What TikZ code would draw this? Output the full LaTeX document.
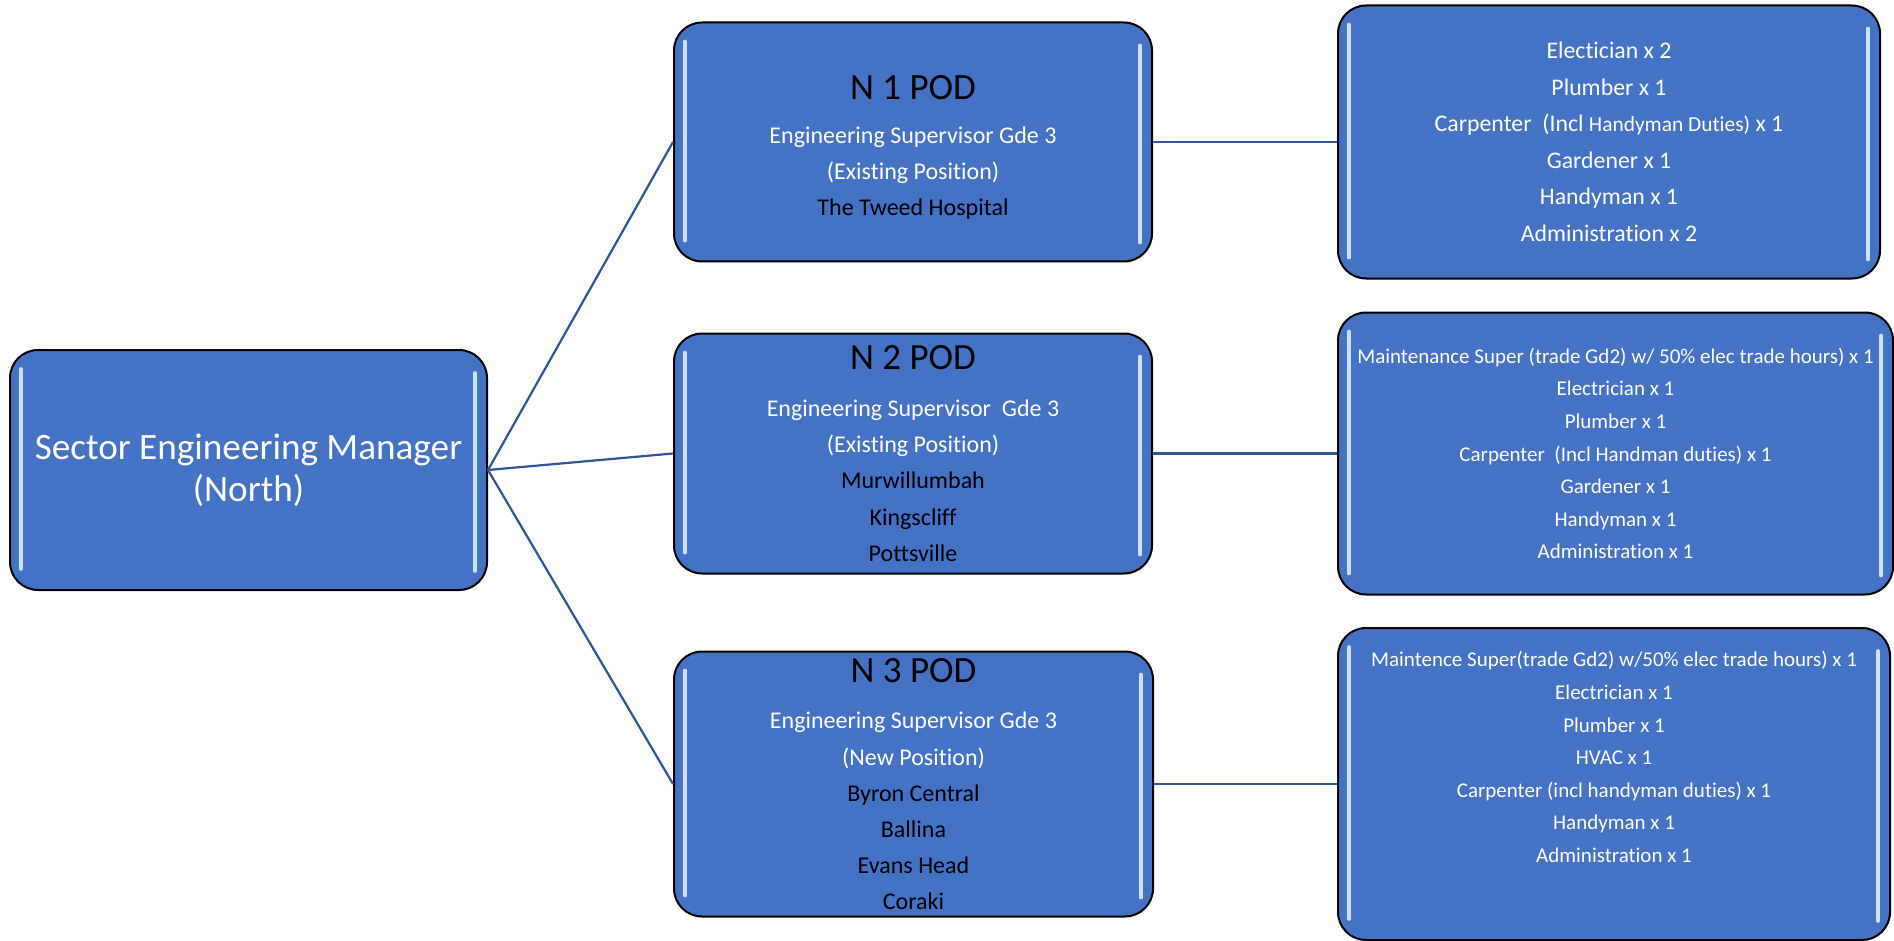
\documentclass[tikz,border=0pt]{standalone}
\usepackage{fontspec}
\setmainfont{Carlito}[Ligatures=NoCommon]
\definecolor{boxblue}{HTML}{4472C4}
\definecolor{linkblue}{HTML}{2F5597}
\definecolor{gloss}{HTML}{CFE0F6}
\tikzset{
  orgbox/.style={draw=black, line width=1pt, fill=boxblue, rounded corners=14pt, text=white, align=center, inner sep=0pt},
  podfont/.style={font=\fontsize{12}{18.1}\selectfont},
  crewfont/.style={font=\fontsize{10.5}{16.3}\selectfont},
  link/.style={draw=linkblue, line width=1.1pt},
  shine/.style={draw=gloss, line width=1.8pt, line cap=round},
}
\begin{document}
\begin{tikzpicture}[x=0.5pt, y=-0.5pt]
      \useasboundingbox (0,0) rectangle (1894,941);
      %
      \node [orgbox, minimum width=238.5pt, minimum height=120pt, font=\fontsize{18.6}{20.8}\selectfont] (mgr) at (248.5,470) {Sector Engineering Manager\\(North)};
      %
      \node [orgbox, podfont, minimum width=239pt, minimum height=119.5pt] (n1) at (913,142) {{\fontsize{18.5}{18}\selectfont\textcolor{black}{N 1 POD}}\rule{0pt}{17.7pt}\\[3.5pt]Engineering Supervisor Gde 3\\(Existing Position)\\\textcolor{black}{The Tweed Hospital}};
      \node [orgbox, podfont, minimum width=239pt, minimum height=120pt] (n2) at (913,453.5) {{\fontsize{18.5}{18}\selectfont\textcolor{black}{N 2 POD}}\\[5.3pt]Engineering Supervisor~ Gde 3\\(Existing Position)\\\textcolor{black}{Murwillumbah}\\\textcolor{black}{Kingscliff}\\\textcolor{black}{Pottsville}};
      \node [orgbox, podfont, minimum width=239.5pt, minimum height=132.5pt] (n3) at (913.5,784) {{\fontsize{18.5}{18}\selectfont\textcolor{black}{N 3 POD}}\\[5.3pt]Engineering Supervisor Gde 3\\(New Position)\\\textcolor{black}{Byron Central}\\\textcolor{black}{Ballina}\\\textcolor{black}{Evans Head}\\\textcolor{black}{Coraki}};
      %
      \node [orgbox, font=\fontsize{11.9}{18.25}\selectfont, minimum width=271pt, minimum height=136.5pt] (r1) at (1609,142) {Electician x 2\\Plumber x 1\\Carpenter~ (Incl {\fontsize{10.7}{18.25}\selectfont Handyman Duties)} x 1\\Gardener x 1\\Handyman x 1\\Administration x 2};
      \node [orgbox, crewfont, minimum width=277.5pt, minimum height=141pt] (r2) at (1615.5,453.5) {Maintenance Super (trade Gd2) w/ 50\% elec trade hours) x 1\\Electrician x 1\\Plumber x 1\\Carpenter~ (Incl Handman duties) x 1\\Gardener x 1\\Handyman x 1\\Administration x 1};
      \node [orgbox, crewfont, minimum width=276pt, minimum height=156pt] (r3) at (1614,784) {Maintence Super(trade Gd2) w/50\% elec trade hours) x 1\\Electrician x 1\\Plumber x 1\\HVAC x 1\\Carpenter (incl handyman duties) x 1\\Handyman x 1\\Administration x 1\rule[-27pt]{0pt}{1pt}};
      %
      \draw [link] (mgr.east) -- (n1.west);
      \draw [link] (mgr.east) -- (n2.west);
      \draw [link] (mgr.east) -- (n3.west);
      \draw [link] (n1.east) -- (r1.west);
      \draw [link] (n2.east) -- (r2.west);
      \draw [link] (n3.east) -- (r3.west);
      %
      \draw [shine] ([shift={(12,20)}]mgr.north west) -- ([shift={(12,-22)}]mgr.south west);
      \draw [shine] ([shift={(-13,24)}]mgr.north east) -- ([shift={(-13,-20)}]mgr.south east);
      \draw [shine] ([shift={(12,20)}]n1.north west) -- ([shift={(12,-22)}]n1.south west);
      \draw [shine] ([shift={(-13,24)}]n1.north east) -- ([shift={(-13,-20)}]n1.south east);
      \draw [shine] ([shift={(12,20)}]n2.north west) -- ([shift={(12,-22)}]n2.south west);
      \draw [shine] ([shift={(-13,24)}]n2.north east) -- ([shift={(-13,-20)}]n2.south east);
      \draw [shine] ([shift={(12,20)}]n3.north west) -- ([shift={(12,-22)}]n3.south west);
      \draw [shine] ([shift={(-13,24)}]n3.north east) -- ([shift={(-13,-20)}]n3.south east);
      \draw [shine] ([shift={(12,20)}]r1.north west) -- ([shift={(12,-22)}]r1.south west);
      \draw [shine] ([shift={(-13,24)}]r1.north east) -- ([shift={(-13,-20)}]r1.south east);
      \draw [shine] ([shift={(12,20)}]r2.north west) -- ([shift={(12,-22)}]r2.south west);
      \draw [shine] ([shift={(-13,24)}]r2.north east) -- ([shift={(-13,-20)}]r2.south east);
      \draw [shine] ([shift={(12,20)}]r3.north west) -- ([shift={(12,-22)}]r3.south west);
      \draw [shine] ([shift={(-13,24)}]r3.north east) -- ([shift={(-13,-20)}]r3.south east);
      %
\end{tikzpicture}
\end{document}
